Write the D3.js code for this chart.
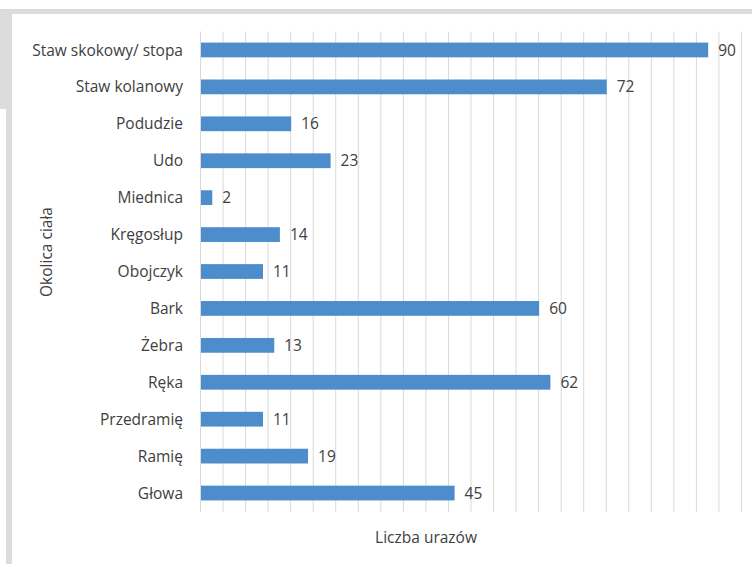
<!DOCTYPE html>
<html><head><meta charset="utf-8">
<script src="https://cdn.jsdelivr.net/npm/d3@7"></script>
<style>
body{margin:0;background:#fff;}
svg{display:block;}
text{font-family:"Open Sans",Lato,sans-serif;fill:#404040;}
</style></head><body>
<script>
const categories = ["Staw skokowy/ stopa","Staw kolanowy","Podudzie","Udo","Miednica","Kręgosłup","Obojczyk","Bark","Żebra","Ręka","Przedramię","Ramię","Głowa"];
const values = [90,72,16,23,2,14,11,60,13,62,11,19,45];
const gridTicks = d3.range(0,97,4);
const xTitle = "Liczba urazów";
const yTitle = "Okolica ciała";

const W=752,H=564;
const svg=d3.select("body").append("svg").attr("width",W).attr("height",H);
// frame
svg.append("rect").attr("x",0).attr("y",9).attr("width",W).attr("height",5).attr("fill","#dcdcdc");
svg.append("rect").attr("x",0).attr("y",14).attr("width",12).attr("height",95).attr("fill","#dcdcdc");
svg.append("rect").attr("x",6).attr("y",109).attr("width",6).attr("height",H-109).attr("fill","#dcdcdc");

const x=d3.scaleLinear().domain([0,96]).range([200,741]);
const y=d3.scaleBand().domain(categories).range([31.5,511.5]).paddingInner(0.6).paddingOuter(0.3);

svg.append("g").selectAll("line").data(gridTicks).join("line")
 .attr("x1",d=>x(d)+0.5).attr("x2",d=>x(d)+0.5).attr("y1",31.5).attr("y2",512)
 .attr("stroke","#d9d9d9").attr("stroke-width",1);

svg.append("g").selectAll("rect").data(values).join("rect")
 .attr("x",x(0)+1).attr("y",(d,i)=>y(categories[i]))
 .attr("width",d=>x(d)-x(0)).attr("height",y.bandwidth())
 .attr("fill","#4d8dcc");

svg.append("g").selectAll("text").data(values).join("text")
 .attr("x",d=>x(d)+11).attr("y",(d,i)=>y(categories[i])+y.bandwidth()/2)
 .attr("dy","0.36em").attr("font-size",15.5).text(d=>d);

svg.append("g").selectAll("text").data(categories).join("text")
 .attr("x",183).attr("y",d=>y(d)+y.bandwidth()/2).attr("dy","0.36em")
 .attr("text-anchor","end").attr("font-size",15.5).text(d=>d);

svg.append("text").attr("x",426).attr("y",543).attr("text-anchor","middle").attr("font-size",15.5).text(xTitle);
svg.append("text").attr("transform","translate(52,252) rotate(-90)").attr("text-anchor","middle")
 .attr("font-size",15.5).text(yTitle);
</script></body></html>
